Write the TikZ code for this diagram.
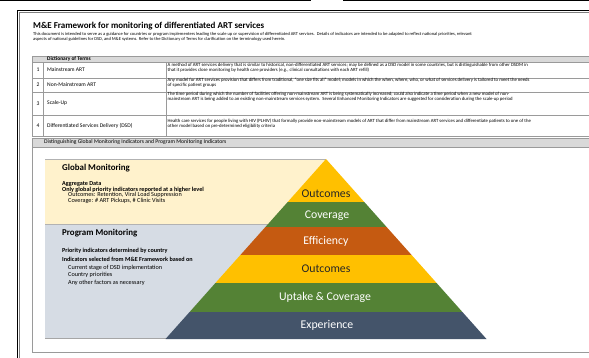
\documentclass[tikz,border=0pt]{standalone}
\usepackage{fontspec}
\setmainfont{Carlito}
\definecolor{beige}{HTML}{FFF2CC}
\definecolor{pgray}{HTML}{D6DCE4}
\definecolor{pgold}{HTML}{FFC000}
\definecolor{pgreen}{HTML}{548235}
\definecolor{porange}{HTML}{C55A11}
\definecolor{pnavy}{HTML}{44546A}
\definecolor{hdr}{HTML}{D9D9D9}
\definecolor{rule}{HTML}{9A9A9A}
\begin{document}
\begin{tikzpicture}[x=1pt,y=-1pt,
  txt/.style={anchor=west,inner sep=0pt,font=\fontsize{4.75}{5}\selectfont},
  term/.style={anchor=west,inner sep=0pt,font=\fontsize{5.6}{6}\selectfont},
  txtb/.style={anchor=west,inner sep=0pt,font=\bfseries\fontsize{6.15}{7}\selectfont},
  txtn/.style={anchor=west,inner sep=0pt,font=\fontsize{6.2}{7}\selectfont},
  cell/.style={draw=rule,line width=0.5pt},
  plabel/.style={inner sep=0pt,font=\fontsize{11.8}{13}\selectfont},
  heading/.style={anchor=west,inner sep=0pt,font=\bfseries\fontsize{8.9}{10}\selectfont}]
\useasboundingbox (0,0) rectangle (589,357);
\clip (0,0) rectangle (589,357);
\fill[white] (0,0) rectangle (589,357);
% top strip (boxes above)
\draw[line width=1.5pt] (0,0.3) -- (310,0.3) -- (310,-3);
\draw[line width=1.2pt] (343,0) -- (600,0);
% main frame
\draw[line width=1.2pt] (17.5,360) -- (17.5,10.5) -- (600,10.5);
\draw[gray,line width=0.6pt] (19.6,360) -- (19.6,12.6) -- (600,12.6);
% title and intro
\node[anchor=base west,inner sep=0pt,font=\bfseries\fontsize{9}{11}\selectfont] (title) at (33,28) {M\&E Framework for monitoring of differentiated ART services};
\node[anchor=west,inner sep=0pt,font=\fontsize{4.5}{5}\selectfont] (intro1) at (33,34) {This document is intended to serve as a guidance for countries or program implementers leading the scale up or supervision of differentiated ART services.\ \ Details of indicators are intended to be adapted to reflect national priorities, relevant};
\node[anchor=west,inner sep=0pt,font=\fontsize{4.5}{5}\selectfont] (intro2) at (33,39.5) {aspects of national guidelines for DSD, and M\&E systems. Refer to the Dictionary of Terms for clarification on the terminology used herein.};
% dictionary table
\draw[cell,fill=hdr] (32,56) rectangle (600,62);
\node[term,font=\bfseries\fontsize{5.4}{6}\selectfont] (dict) at (47,59) {Dictionary of Terms};
\foreach \ya/\yb/\n in {62/78/1,78/92/2,92/115/3,115/136/4}{
  \draw[cell] (32,\ya) rectangle (43,\yb);
  \draw[cell] (43,\ya) rectangle (166,\yb);
  \draw[cell] (166,\ya) rectangle (600,\yb);
  \node[term] (num\n) at (36.3,{(\ya+\yb)/2}) {\n};
}
\node[term] (t1) at (47,70) {Mainstream ART};
\node[term] (t2) at (47,85) {Non-Mainstream ART};
\node[term] (t3) at (47,103.5) {Scale-Up};
\node[term] (t4) at (47,125.5) {Differentiated Services Delivery (DSD)};
\node[txt] (d1a) at (167.5,65.5) {A method of ART services delivery that is similar to historical, non-differentiated ART services; may be defined as a DSD model in some countries, but is distinguishable from other DSDM in};
\node[txt] (d1b) at (167.5,70.5) {that it provides close monitoring by health care providers (e.g., clinical consultations with each ART refill)};
\node[txt] (d2a) at (167.5,80.5) {Any model for ART services provision that differs from traditional, ``one size fits all'' model; models in which the when, where, who, or what of services delivery is tailored to meet the needs};
\node[txt] (d2b) at (167.5,85.5) {of specific patient groups};
\node[txt] (d3a) at (167.5,94.5) {The time period during which the number of facilities offering non-mainstream ART is being systematically increased; could also indicate a time period when a new model of non-};
\node[txt] (d3b) at (167.5,99.5) {mainstream ART is being added to an existing non-mainstream services system.\ \ Several Enhanced Monitoring Indicators are suggested for consideration during the scale-up period};
\node[txt] (d4a) at (167.5,121.5) {Health care services for people living with HIV (PLHIV) that formally provide non-mainstream models of ART that differ from mainstream ART services and differentiate patients to one of the};
\node[txt] (d4b) at (167.5,126.5) {other model based on pre-determined eligibility criteria};
% section frame
\draw[cell,line width=0.8pt] (32,138) rectangle (600,352);
\draw[cell,fill=hdr] (32,138) rectangle (600,147);
\node[term,font=\fontsize{5.7}{6}\selectfont] (sect) at (44,142.5) {Distinguishing Global Monitoring Indicators and Program Monitoring Indicators};
% monitoring boxes
\fill[beige] (45,159) rectangle (326,224);
\fill[pgray] (45,224) rectangle (326,338);
\draw[gray!60,line width=0.8pt] (45,159) -- (326,159);
\draw[gray!60,line width=0.6pt] (45,224) -- (300,224);
\draw[gray!70,line width=0.8pt] (45,338.6) -- (170,338.6);
\node[heading] (gm) at (62,168) {Global Monitoring};
\node[txtb] (gm1) at (62,184.3) {Aggregate Data};
\node[txtb] (gm2) at (62,189.5) {Only global priority indicators reported at a higher level};
\node[txtn] (gm3) at (68,195.3) {Outcomes: Retention, Viral Load Suppression};
\node[txtn] (gm4) at (68,200.7) {Coverage: \# ART Pickups, \# Clinic Visits};
\node[heading] (pm) at (62,233) {Program Monitoring};
\node[txtb] (pm1) at (62,251) {Priority indicators determined by country};
\node[txtb] (pm2) at (62,259.3) {Indicators selected from M\&E Framework based on};
\node[txtn] (pm3) at (68,268) {Current stage of DSD implementation};
\node[txtn] (pm4) at (68,275) {Country priorities};
\node[txtn] (pm5) at (68,283) {Any other factors as necessary};
% pyramid
\fill[pgold]   (326,159) -- (364.3,202) -- (287.7,202) -- cycle;
\fill[pgreen]  (287.7,202) -- (364.3,202) -- (386.6,227) -- (265.4,227) -- cycle;
\fill[porange] (265.4,227) -- (386.6,227) -- (411.6,255) -- (240.4,255) -- cycle;
\fill[pgold]   (240.4,255) -- (411.6,255) -- (436.6,283) -- (215.4,283) -- cycle;
\fill[pgreen]  (215.4,283) -- (436.6,283) -- (462.4,312) -- (189.6,312) -- cycle;
\fill[pnavy]   (189.6,312) -- (462.4,312) -- (486.5,339) -- (165.5,339) -- cycle;
\node[plabel,text=black!85] (l1) at (326,194) {Outcomes};
\node[plabel,text=white] (l2) at (327,216) {Coverage};
\node[plabel,text=white] (l3) at (326,241) {Efficiency};
\node[plabel,text=black!85] (l4) at (326,269) {Outcomes};
\node[plabel,text=white] (l5) at (325,297) {Uptake \& Coverage};
\node[plabel,text=white] (l6) at (327,325) {Experience};
\end{tikzpicture}
\end{document}
